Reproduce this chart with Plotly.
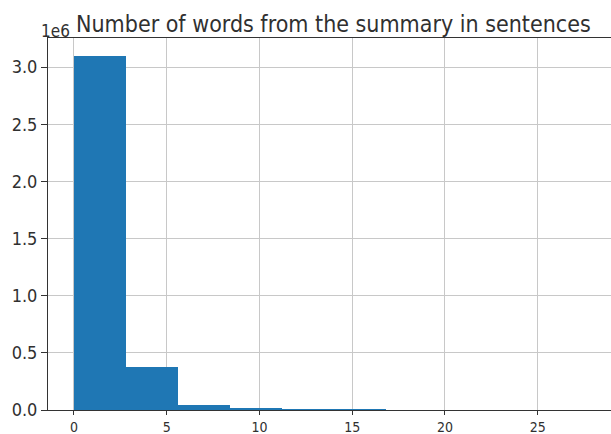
import plotly.graph_objects as go

bin_edges = [0.0, 2.8, 5.6, 8.4, 11.2, 14.0, 16.8, 19.6, 22.4, 25.2, 28.0]
counts = [3095000, 372000, 45000, 12000, 300, 80, 30, 10, 5, 2]
y_tick_vals = [0.0, 0.5, 1.0, 1.5, 2.0, 2.5, 3.0]
x_tick_vals = [0, 5, 10, 15, 20, 25]
title_text = "Number of words from the summary in sentences"
offset_text = "1e6"
scale = 1e6

centers = [(a + b) / 2 for a, b in zip(bin_edges[:-1], bin_edges[1:])]
widths = [b - a for a, b in zip(bin_edges[:-1], bin_edges[1:])]

fig = go.Figure(go.Bar(
    x=centers, y=counts, width=widths,
    marker=dict(color="#1f77b4", line=dict(width=0)),
))

font = "DejaVu Sans Condensed, DejaVu Sans, sans-serif"
fig.update_layout(
    width=611, height=434,
    margin=dict(l=48, r=0, t=38, b=24),
    plot_bgcolor="white", paper_bgcolor="white",
    showlegend=False, bargap=0,
    font=dict(family=font, size=18, color="#303030"),
)
fig.update_xaxes(
    range=[-1.4, 28.95], tickvals=x_tick_vals, ticktext=[str(v) for v in x_tick_vals],
    showgrid=True, gridcolor="#c8c8c8", gridwidth=1,
    showline=True, linecolor="#333", linewidth=1, mirror=True,
    ticks="outside", ticklen=4, tickcolor="#333", zeroline=False,
    tickfont=dict(size=14), automargin=False,
    layer="above traces",
)
fig.update_yaxes(
    range=[0, 3.255e6], tickvals=[v * scale for v in y_tick_vals],
    ticktext=[f"{v:.1f}" for v in y_tick_vals],
    showgrid=True, gridcolor="#c8c8c8", gridwidth=1,
    showline=True, linecolor="#333", linewidth=1,
    ticks="outside", ticklen=6, tickcolor="#333", zeroline=False,
    automargin=False,
    layer="above traces",
)
fig.add_annotation(text=title_text, xref="paper", yref="paper",
                   x=0.507, y=1, yanchor="bottom", xanchor="center", yshift=-1,
                   showarrow=False, font=dict(size=23, family=font, color="#303030"))
fig.add_annotation(text=offset_text, xref="paper", yref="paper",
                   x=0, y=1, yanchor="bottom", xanchor="left", xshift=-9, yshift=-5,
                   showarrow=False, font=dict(size=17, family=font, color="#303030"))

fig.write_html("out.html", config={"displayModeBar": False},
               post_script="document.body.style.margin='0';")
